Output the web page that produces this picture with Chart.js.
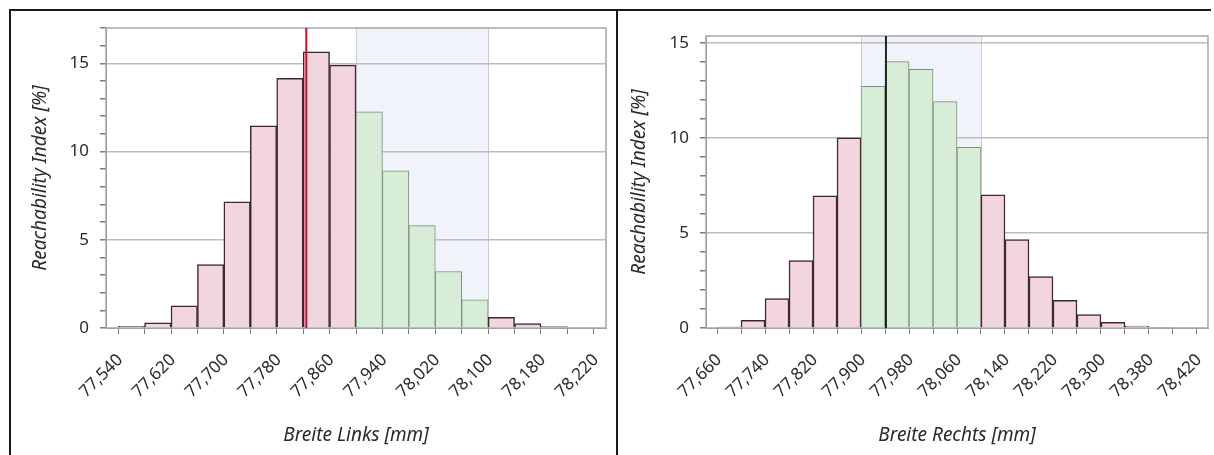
<!DOCTYPE html>
<html>
<head>
<meta charset="utf-8">
<script src="https://cdn.jsdelivr.net/npm/chart.js@4.4.1/dist/chart.umd.min.js"></script>
<style>
  body { margin: 0; background: #fff; width: 1214px; height: 455px; overflow: hidden; position: relative; }
  .frame { position: absolute; left: 9px; top: 9px; width: 1200px; height: 460px;
           border-top: 2px solid #1a1a1a; border-left: 2px solid #1a1a1a; }
  .divider { position: absolute; left: 616px; top: 9px; width: 2px; height: 446px; background: #1a1a1a; }
  canvas { position: absolute; top: 11px; }
  #chartLinks { left: 11px; }
  #chartRechts { left: 618px; }
</style>
</head>
<body>
<div class="frame"></div>
<div class="divider"></div>
<canvas id="chartLinks" width="605" height="444"></canvas>
<canvas id="chartRechts" width="596" height="444"></canvas>
<script>
// Breite Links: Histogramm, Bin-Kanten 0..18
const labelsLinks = ['77,540', '77,620', '77,700', '77,780', '77,860', '77,940', '78,020', '78,100', '78,180', '78,220'];
const valuesLinks = [0.1, 0.3, 1.25, 3.6, 7.15, 11.45, 14.15, 15.65, 14.9, 12.25, 8.9, 5.8, 3.2, 1.6, 0.6, 0.25, 0.08];
const binCountLinks = 18;
const tolLinks = [9, 14];      // Toleranzband in Bin-Kanten
const meanLinks = 7.12;
const yMaxLinks = 17;

// Breite Rechts: Histogramm, Bin-Kanten 0..20
const labelsRechts = ['77,660', '77,740', '77,820', '77,900', '77,980', '78,060', '78,140', '78,220', '78,300', '78,380', '78,420'];
const valuesRechts = [0.05, 0.4, 1.55, 3.55, 6.95, 10.0, 12.7, 14.0, 13.6, 11.9, 9.5, 7.0, 4.65, 2.7, 1.45, 0.7, 0.3, 0.1, 0.04];
const binCountRechts = 20;
const tolRechts = [6, 11];
const meanRechts = 7.04;
const yMaxRechts = 15.35;

const PINK = '#f3d5df', PINK_BORDER = '#3b2a30';
const GREEN = '#d7edd7', GREEN_BORDER = '#7e8e7e';
const BAND = '#f0f3f9';
const FONT = "'Noto Sans', 'Open Sans', sans-serif";
const TEXT = '#2a2a2a';

// Toleranzband hinter dem Grid, Rahmen + Mittelwertlinie
const bandPlugin = {
  id: 'band',
  beforeDraw(chart, args, opts) {
    const { ctx, chartArea: a, scales: { x } } = chart;
    const x0 = Math.round(x.getPixelForValue(opts.from)) + 0.5;
    const x1 = Math.round(x.getPixelForValue(opts.to)) + 0.5;
    ctx.save();
    ctx.fillStyle = BAND;
    ctx.fillRect(x0, a.top, x1 - x0, a.bottom - a.top);
    ctx.strokeStyle = '#cacad2';
    ctx.lineWidth = 1;
    ctx.beginPath();
    ctx.moveTo(x0, a.top); ctx.lineTo(x0, a.bottom);
    ctx.moveTo(x1, a.top); ctx.lineTo(x1, a.bottom);
    ctx.stroke();
    ctx.restore();
  },
  beforeDatasetsDraw(chart) {
    const { ctx, chartArea: a } = chart;
    ctx.save();
    ctx.strokeStyle = '#a6a6a6';
    ctx.lineWidth = 1.5;
    ctx.strokeRect(a.left, a.top, a.right - a.left, a.bottom - a.top);
    ctx.restore();
  },
  afterDatasetsDraw(chart, args, opts) {
    const { ctx, chartArea: a, scales: { x } } = chart;
    const px = x.getPixelForValue(opts.mean);
    ctx.save();
    ctx.strokeStyle = opts.meanColor;
    ctx.lineWidth = 2;
    ctx.beginPath();
    ctx.moveTo(px, a.top); ctx.lineTo(px, a.bottom);
    ctx.stroke();
    ctx.restore();
  }
};

function makeChart(id, c) {
  const inTol = i => i >= c.tol[0] && i < c.tol[1];
  return new Chart(document.getElementById(id), {
    type: 'bar',
    data: {
      datasets: [{
        data: c.values.map((v, i) => ({ x: i + 0.5, y: v })),
        backgroundColor: ctx => inTol(ctx.dataIndex) ? GREEN : PINK,
        borderColor: ctx => inTol(ctx.dataIndex) ? GREEN_BORDER : PINK_BORDER,
        borderWidth: ctx => inTol(ctx.dataIndex) ? 1 : 1.5,
        barPercentage: 1,
        categoryPercentage: 1,
        grouped: false
      }]
    },
    options: {
      responsive: false,
      animation: false,
      devicePixelRatio: 1,
      layout: { padding: { top: c.padTop, right: c.padRight, left: 0, bottom: 0 } },
      plugins: {
        legend: { display: false },
        tooltip: { enabled: false },
        band: { from: c.tol[0], to: c.tol[1], mean: c.mean, meanColor: c.meanColor }
      },
      scales: {
        x: {
          type: 'linear',
          min: -0.46,
          max: c.bins + 0.46,
          offset: false,
          afterBuildTicks: s => { s.ticks = Array.from({ length: c.bins + 1 }, (_, i) => ({ value: i })); },
          // feste Höhe, keine Randpolster durch gedrehte Labels
          afterFit: s => { s.height = 127; s.paddingLeft = 0; s.paddingRight = 0; },
          ticks: {
            autoSkip: false, maxRotation: 45, minRotation: 45, padding: 16, labelOffset: 2,
            callback: (v, i) => i % 2 ? '' : c.labels[i / 2],
            font: { family: FONT, size: 17 }, color: TEXT
          },
          grid: { drawOnChartArea: false, offset: false, color: '#7d7d7d', tickLength: 6 },
          border: { color: '#9a9a9a' },
          title: {
            display: true, text: c.xTitle, color: TEXT,
            font: { family: FONT, size: 19, style: 'italic' },
            padding: { top: 0, bottom: 8 }
          }
        },
        y: {
          min: 0,
          max: c.yMax,
          afterBuildTicks: s => { s.ticks = []; for (let v = 0; v <= c.yMax; v++) s.ticks.push({ value: v }); },
          afterFit: s => { s.width = c.axisWidth; s.paddingTop = 0; s.paddingBottom = 0; },
          ticks: {
            autoSkip: false,
            padding: 11,
            callback: v => v % 5 === 0 ? v : '',
            font: { family: FONT, size: 17 }, color: TEXT
          },
          grid: {
            color: g => g.tick && g.tick.value > 0 && g.tick.value % 5 === 0 ? '#bdbdbd' : 'rgba(0,0,0,0)',
            lineWidth: 1.5,
            tickColor: '#7d7d7d',
            tickLength: 6
          },
          border: { color: '#9a9a9a' },
          title: {
            display: true, text: 'Reachability Index [%]', color: TEXT,
            font: { family: FONT, size: 19, style: 'italic' },
            padding: { top: c.yTitlePad, bottom: 0 }
          }
        }
      }
    },
    plugins: [bandPlugin]
  });
}

makeChart('chartLinks', {
  labels: labelsLinks, values: valuesLinks, bins: binCountLinks, tol: tolLinks,
  mean: meanLinks, meanColor: '#c8102e', yMax: yMaxLinks, xTitle: 'Breite Links [mm]',
  axisWidth: 95, padTop: 17, padRight: 10, yTitlePad: 18
});

makeChart('chartRechts', {
  labels: labelsRechts, values: valuesRechts, bins: binCountRechts, tol: tolRechts,
  mean: meanRechts, meanColor: '#1c2a1c', yMax: yMaxRechts, xTitle: 'Breite Rechts [mm]',
  axisWidth: 88, padTop: 25, padRight: 6, yTitlePad: 10
});
</script>
</body>
</html>
